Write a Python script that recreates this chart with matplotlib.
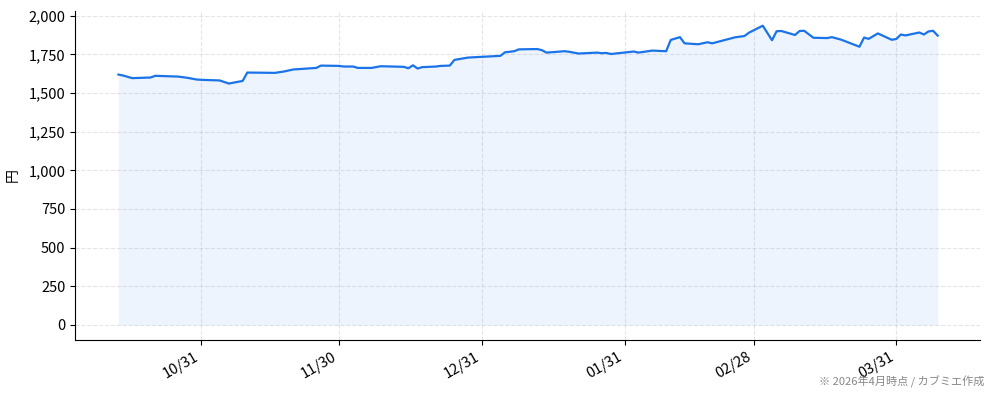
import matplotlib
matplotlib.use("Agg")
import matplotlib.pyplot as plt
import matplotlib.dates as mdates
from matplotlib.ticker import FuncFormatter
import pandas as pd

plt.rcParams['font.family'] = ['Noto Sans CJK JP', 'DejaVu Sans']

dates = [
    "2025-10-13", "2025-10-14", "2025-10-16", "2025-10-20", "2025-10-21",
    "2025-10-26", "2025-10-28", "2025-10-30", "2025-10-31", "2025-11-04",
    "2025-11-06", "2025-11-09", "2025-11-10", "2025-11-16", "2025-11-18",
    "2025-11-20", "2025-11-25", "2025-11-26", "2025-11-30", "2025-12-01",
    "2025-12-03", "2025-12-04", "2025-12-07", "2025-12-09", "2025-12-14",
    "2025-12-15", "2025-12-16", "2025-12-17", "2025-12-18", "2025-12-21",
    "2025-12-22", "2025-12-24", "2025-12-25", "2025-12-28", "2026-01-04",
    "2026-01-05", "2026-01-07", "2026-01-08", "2026-01-12", "2026-01-13",
    "2026-01-14", "2026-01-18", "2026-01-19", "2026-01-21", "2026-01-25",
    "2026-01-26", "2026-01-27", "2026-01-28", "2026-02-02", "2026-02-03",
    "2026-02-06", "2026-02-09", "2026-02-10", "2026-02-12", "2026-02-13",
    "2026-02-16", "2026-02-18", "2026-02-19", "2026-02-24", "2026-02-26",
    "2026-02-27", "2026-03-02", "2026-03-04", "2026-03-05", "2026-03-06",
    "2026-03-09", "2026-03-10", "2026-03-11", "2026-03-13", "2026-03-16",
    "2026-03-17", "2026-03-19", "2026-03-23", "2026-03-24", "2026-03-25",
    "2026-03-27", "2026-03-30", "2026-03-31", "2026-04-01", "2026-04-02",
    "2026-04-05", "2026-04-06", "2026-04-07", "2026-04-08", "2026-04-09",
]
prices = [
    1619, 1613, 1596, 1600, 1611,
    1606, 1598, 1587, 1585, 1581,
    1561, 1578, 1632, 1630, 1639,
    1652, 1662, 1677, 1675, 1671,
    1671, 1662, 1662, 1673, 1669,
    1660, 1679, 1658, 1667, 1671,
    1675, 1677, 1714, 1729, 1740,
    1763, 1770, 1782, 1784, 1777,
    1761, 1770, 1766, 1755, 1761,
    1757, 1759, 1752, 1768, 1761,
    1774, 1770, 1843, 1861, 1821,
    1815, 1828, 1821, 1860, 1868,
    1890, 1935, 1841, 1899, 1901,
    1875, 1901, 1902, 1857, 1855,
    1861, 1845, 1799, 1858, 1850,
    1885, 1844, 1849, 1878, 1872,
    1891, 1878, 1898, 1902, 1871,
]
tick_dates = ["2025-10-31", "2025-11-30", "2025-12-31", "2026-01-31", "2026-02-28", "2026-03-31"]
tick_labels = ["10/31", "11/30", "12/31", "01/31", "02/28", "03/31"]
y_label = "円"
footnote = "※ 2026年4月時点 / カブミエ作成"

x = pd.to_datetime(dates)
fig = plt.figure(figsize=(9.94, 4.0), dpi=100)
ax = fig.add_axes([0.0755, 0.15, 0.9105, 0.8225])

line_color = "#1a73e8"
ax.fill_between(x, prices, 0, color=line_color, alpha=0.08, linewidth=0)
ax.plot(x, prices, color=line_color, linewidth=1.6)

ax.set_xlim(pd.Timestamp("2025-10-03 14:00"), pd.Timestamp("2026-04-18 05:00"))
ax.set_ylim(-97, 2030)
ax.set_yticks([0, 250, 500, 750, 1000, 1250, 1500, 1750, 2000])
ax.yaxis.set_major_formatter(FuncFormatter(lambda v, p: f"{v:,.0f}"))
ax.set_xticks(pd.to_datetime(tick_dates))
ax.set_xticklabels(tick_labels, rotation=30, ha="right")
ax.set_ylabel(y_label, fontsize=10, labelpad=6)

ax.grid(True, linestyle="--", color="#cccccc", alpha=0.5, linewidth=0.8)
ax.set_axisbelow(True)
for s in ("top", "right"):
    ax.spines[s].set_visible(False)
ax.tick_params(labelsize=10.5)

fig.text(0.99, 0.03, footnote, ha="right", va="bottom", fontsize=8, color="#888888")

fig.savefig("out.png", dpi=100)
